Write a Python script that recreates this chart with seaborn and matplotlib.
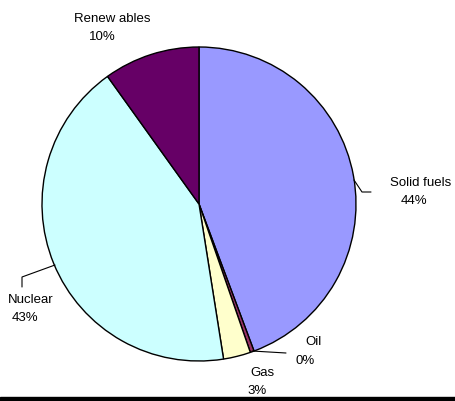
import matplotlib
matplotlib.use("Agg")
import matplotlib.pyplot as plt
import seaborn as sns
from matplotlib.patches import Rectangle

sns.set_theme(style="white")
plt.rcParams['font.family'] = ['Liberation Sans', 'DejaVu Sans']

categories = ["Solid fuels", "Oil", "Gas", "Nuclear", "Renewables"]
label_names = ["Solid fuels", "Oil", "Gas", "Nuclear", "Renew ables"]
values = [44.3, 0.4, 2.8, 42.6, 9.9]
colors = ["#9999FF", "#993366", "#FFFFCC", "#CCFFFF", "#660066"]

W, H = 455, 401
fig = plt.figure(figsize=(W / 100, H / 100), dpi=100)
cx, cy, r = 199, 204, 157
ax = fig.add_axes([(cx - r) / W, (H - (cy + r)) / H, 2 * r / W, 2 * r / H])

ax.pie(values, colors=colors, startangle=90, counterclock=False, radius=1,
       wedgeprops=dict(edgecolor="black", linewidth=1.0))
ax.set_xlim(-1, 1)
ax.set_ylim(-1, 1)
ax.set_aspect("equal")
ax.axis("off")

def d(px, py):
    return ((px - cx) / r, (cy - py) / r)

pct = [f"{round(v):d}%" for v in values]
label_pos = {
    0: ((421, 183), (414, 201)),
    1: ((314, 342), (305, 361)),
    2: ((262, 373), (257, 391)),
    3: ((31, 300), (25, 318)),
    4: ((112, 19), (102, 37)),
}
for i, ((lx, ly), (px_, py_)) in label_pos.items():
    ax.text(*d(lx, ly), label_names[i], ha="center", va="center", fontsize=9.5, color="black", clip_on=False)
    ax.text(*d(px_, py_), pct[i], ha="center", va="center", fontsize=9.5, color="black", clip_on=False)

leaders = [
    [(354, 180), (362, 192), (371, 192)],
    [(252, 351), (286, 353)],
    [(55, 265), (22, 277), (22, 287)],
]
for pts in leaders:
    xs, ys = zip(*[d(*p) for p in pts])
    ax.plot(xs, ys, color="black", linewidth=0.8, clip_on=False)

fig.patches.append(Rectangle((0, 0), 1, 4 / H, transform=fig.transFigure, color="black", zorder=10))

fig.savefig("out.png", dpi=100, facecolor="white")
